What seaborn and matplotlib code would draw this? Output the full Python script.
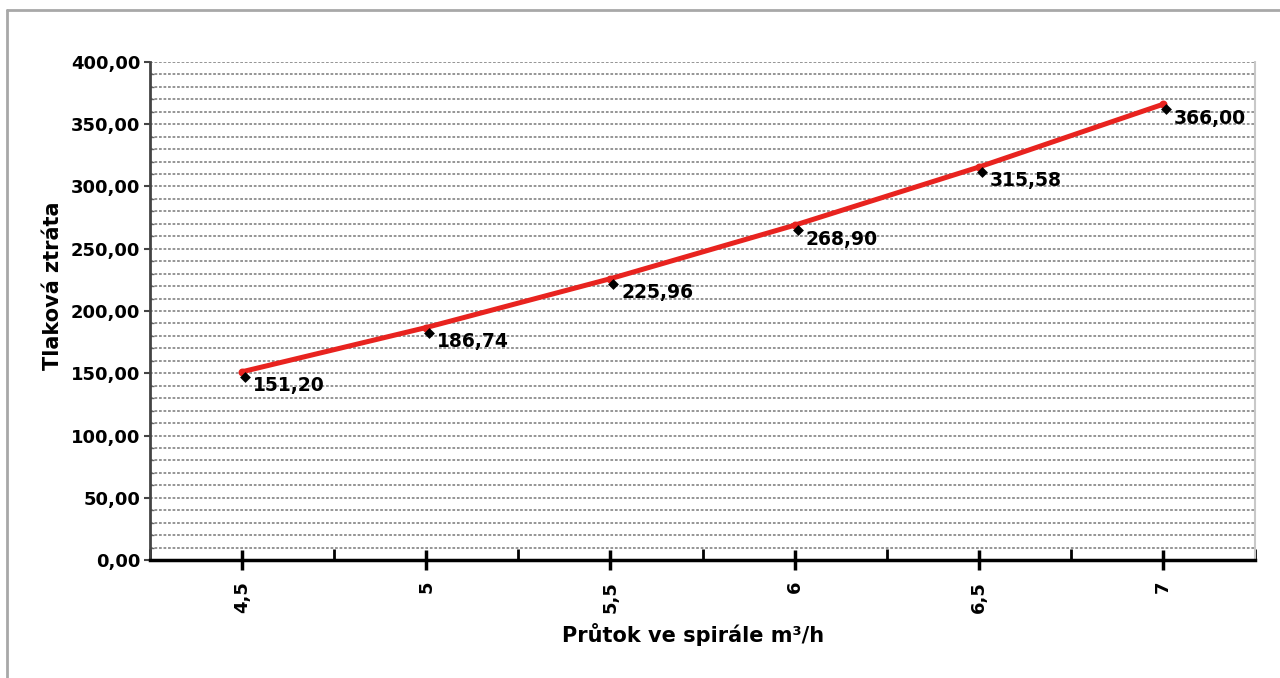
import matplotlib
matplotlib.use("Agg")
import matplotlib.pyplot as plt
import matplotlib.transforms as mtransforms
from matplotlib.lines import Line2D
from matplotlib.ticker import MultipleLocator, FixedLocator
import seaborn as sns
import pandas as pd

# ---- data ----
categories = ["4,5", "5", "5,5", "6", "6,5", "7"]
values = [151.20, 186.74, 225.96, 268.90, 315.58, 366.00]
y_ticks = [0, 50, 100, 150, 200, 250, 300, 350, 400]
x_label = "Průtok ve spirále m³/h"
y_label = "Tlaková ztráta"

df = pd.DataFrame({"x": categories, "y": values})

sns.set_theme(style="white")
plt.rcParams["font.family"] = ["DejaVu Sans"]
plt.rcParams["font.weight"] = "bold"
plt.rcParams["text.color"] = "black"
plt.rcParams["xtick.color"] = "black"
plt.rcParams["ytick.color"] = "black"
plt.rcParams["axes.labelcolor"] = "black"

fig = plt.figure(figsize=(12.8, 6.78), dpi=100)
ax = fig.add_axes([150 / 1280, 1 - 560 / 678, (1255 - 150) / 1280, (560 - 62) / 678])

# red line
sns.pointplot(data=df, x="x", y="y", color="#e8231f", markers="o",
              markersize=3, linewidth=3.6, order=categories, ax=ax, zorder=4)
n_before = len(ax.lines)
# black data markers (slightly offset like the original rendering)
sns.pointplot(data=df, x="x", y="y", color="black", markers="D",
              markersize=3.5, linestyles="none", order=categories, ax=ax, zorder=5)
for ln in ax.lines[n_before:]:
    ln.set_transform(ln.get_transform() + mtransforms.ScaledTranslation(3 / 100, -5 / 100, fig.dpi_scale_trans))

# value labels
for i, v in enumerate(values):
    ax.annotate(f"{v:.2f}".replace(".", ","), (i, v), xytext=(8, -10),
                textcoords="offset points", ha="left", va="center",
                fontsize=13.5, fontweight="bold", color="black", zorder=6)

ax.set_xlim(-0.5, len(categories) - 0.5)
ax.set_ylim(0, 400)
ax.set_yticks(y_ticks)
ax.set_yticklabels([f"{t:.2f}".replace(".", ",") for t in y_ticks])
ax.yaxis.set_minor_locator(MultipleLocator(10))
ax.xaxis.set_minor_locator(FixedLocator([i + 0.5 for i in range(-1, len(categories))]))

# grid
grid_kw = dict(color="#8c8c8c", linewidth=1.3, linestyle=(0, (1.5, 1.0)))
ax.grid(True, which="major", axis="y", **grid_kw)
ax.grid(True, which="minor", axis="y", **grid_kw)
ax.grid(False, axis="x")
ax.set_axisbelow(True)

# spines
ax.spines["top"].set_visible(False)
ax.spines["right"].set_color("#c8c8c8")
ax.spines["right"].set_linestyle((0, (1.5, 1.0)))
ax.spines["right"].set_linewidth(1.5)
ax.spines["left"].set_color("#444444")
ax.spines["left"].set_linewidth(2.0)
ax.spines["bottom"].set_color("black")
ax.spines["bottom"].set_linewidth(2.5)

ax.tick_params(axis="y", which="major", direction="out", length=4, width=1.5,
               color="#444444", labelsize=13, pad=3, left=True, labelcolor="black")
ax.tick_params(axis="y", which="minor", direction="in", length=3, width=1,
               color="#666666", left=True)
ax.tick_params(axis="x", which="major", direction="inout", length=14, width=2.5,
               color="black", labelsize=13, pad=8, bottom=True, labelrotation=90,
               labelcolor="black")
ax.tick_params(axis="x", which="minor", direction="in", length=8, width=2,
               color="black", bottom=True)
for lbl in ax.get_xticklabels() + ax.get_yticklabels():
    lbl.set_fontweight("bold")

ax.set_xlabel(x_label, fontsize=15, fontweight="bold", color="black")
ax.set_ylabel(y_label, fontsize=15, fontweight="bold", color="black")
ax.xaxis.set_label_coords((693 - 150) / 1105, (560 - 623) / 498)
ax.yaxis.set_label_coords((63 - 150) / 1105, (560 - 286) / 498)

# outer frame (top and left edges only)
fx = 6.5 / 1280
fy = 1 - 9.5 / 678
fig.add_artist(Line2D([fx, fx], [0, fy], transform=fig.transFigure, color="#a8a8a8", linewidth=2))
fig.add_artist(Line2D([fx, 1], [fy, fy], transform=fig.transFigure, color="#a8a8a8", linewidth=2))

fig.savefig("out.png", dpi=100)
